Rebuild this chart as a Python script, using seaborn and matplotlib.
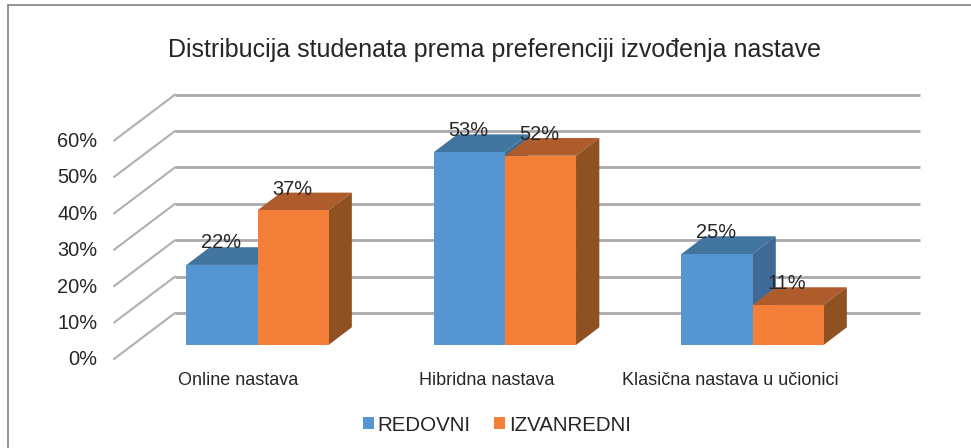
"""
Distribution of students by preferred teaching mode, drawn as a fake 3D column chart.
Outputs: out.png
"""

import matplotlib.pyplot as plt
from matplotlib.lines import Line2D
from matplotlib.patches import Polygon
import seaborn as sns
import pandas as pd

categories = ["Online nastava", "Hibridna nastava", "Klasična nastava u učionici"]
redovni = [22, 53, 25]
izvanredni = [37, 52, 11]
series_names = ["REDOVNI", "IZVANREDNI"]
y_ticks = [0, 10, 20, 30, 40, 50, 60]

W, H = 971, 448
PX_X = 247.5  # pixels per category
PX_Y = 3.64  # pixels per percent

df = pd.DataFrame({
    "kategorija": categories * 2,
    "serija": [series_names[0]] * 3 + [series_names[1]] * 3,
    "udio": redovni + izvanredni,
})

sns.set_theme(style="white")
plt.rcParams["font.family"] = ["Liberation Sans", "DejaVu Sans"]
text_color = "#262626"

fig = plt.figure(figsize=(W / 100, H / 100), dpi=100)
ax = fig.add_axes([114 / W, 1 - 359 / H, (920 - 114) / W, (359 - 95) / H])

palette = {series_names[0]: "#5596d2", series_names[1]: "#f47f39"}
sns.barplot(
    data=df, x="kategorija", y="udio", hue="serija", order=categories,
    hue_order=series_names, palette=palette, saturation=1, width=0.574,
    ax=ax, zorder=5, linewidth=0,
)

x_min, x_max = (114 - 257.5) / PX_X, (920 - 257.5) / PX_X
y_min, y_max = -14 / PX_Y, (345 - 95) / PX_Y
ax.set_xlim(x_min, x_max)
ax.set_ylim(y_min, y_max)

# Floor and wall grid, shifted from the bar plane into the chart depth
wall_dx, wall_dy = 61 / PX_X, 46 / PX_Y
for t in y_ticks:
    y0 = t + y_min
    ax.plot([x_min, x_min + wall_dx], [y0, y0 + wall_dy], color="#b0b0b2", lw=1.5,
            clip_on=False, zorder=1, solid_capstyle="round")
    ax.plot([x_min + wall_dx, x_max], [y0 + wall_dy, y0 + wall_dy], color="#a9a9ae",
            lw=2.0, clip_on=False, zorder=1, solid_capstyle="butt")

# Top and side faces of each column, taken from the bars seaborn drew
depth_dx, depth_dy = 23.3 / PX_X, 17.7 / PX_Y
shades = [("#41749f", "#3f6a97"), ("#ae5c2b", "#8f5022")]
label_shift = [(-1, 22), (-1, 21)]
for s, container in enumerate(ax.containers):
    top_c, side_c = shades[s]
    for bar in container:
        x0, x1 = bar.get_x(), bar.get_x() + bar.get_width()
        h = bar.get_height()
        ax.add_patch(Polygon(
            [(x0, h), (x1, h), (x1 + depth_dx, h + depth_dy), (x0 + depth_dx, h + depth_dy)],
            facecolor=top_c, edgecolor="none", zorder=3 + s,
        ))
        ax.add_patch(Polygon(
            [(x1, 0), (x1 + depth_dx, depth_dy), (x1 + depth_dx, h + depth_dy), (x1, h)],
            facecolor=side_c, edgecolor="none", zorder=3 + s,
        ))
        ax.annotate(
            f"{h:.0f}%", xy=((x0 + x1) / 2, h), xytext=label_shift[s],
            textcoords="offset pixels", ha="center", va="center",
            fontsize=14.4, color=text_color, zorder=6,
        )

sns.despine(ax=ax, left=True, bottom=True)
ax.set_xlabel("")
ax.set_ylabel("")
ax.set_yticks([t + y_min + 0.3 for t in y_ticks], [f"{t}%" for t in y_ticks])
ax.set_xticks([i - off / PX_X for i, off in enumerate([19, 18, 22])], categories)
ax.tick_params(axis="y", length=0, pad=12, labelsize=14.4, labelcolor=text_color)
ax.tick_params(axis="x", length=0, pad=9, labelsize=13, labelcolor=text_color)

fig.text(494 / W, 1 - 50 / H, "Distribucija studenata prema preferenciji izvođenja nastave",
         ha="center", va="center", fontsize=18, color=text_color)

sns.move_legend(
    ax, "center", bbox_to_anchor=(497 / W, 1 - 425 / H), bbox_transform=fig.transFigure,
    ncol=2, title=None, frameon=False, fontsize=14.8, handlelength=0.54, handleheight=0.54,
    handletextpad=0.2, columnspacing=1.15, labelcolor=text_color,
)

# Chart frame, only the top and left edges show in the crop
frame_x, frame_y = 7.5 / W, 1 - 5 / H
fig.add_artist(Line2D([frame_x, 1], [frame_y, frame_y], transform=fig.transFigure,
                      color="#808080", lw=1.2))
fig.add_artist(Line2D([frame_x, frame_x], [0, frame_y], transform=fig.transFigure,
                      color="#808080", lw=1.2))

fig.savefig("out.png", dpi=100)
